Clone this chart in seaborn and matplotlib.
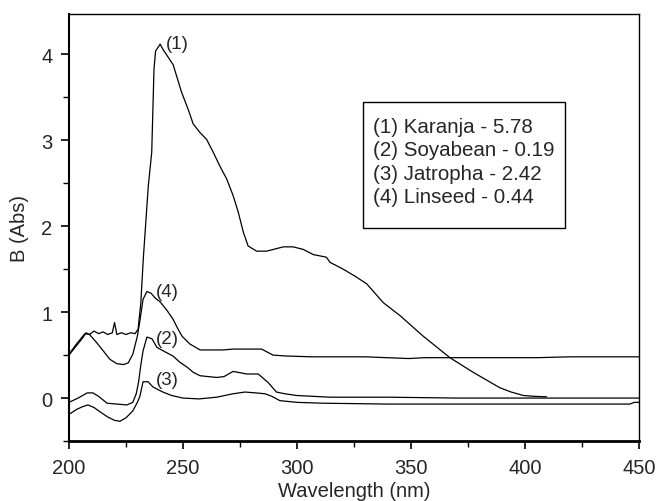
import pandas as pd
import seaborn as sns
import matplotlib.pyplot as plt
from matplotlib.patches import Rectangle

sns.set_style("ticks")
plt.rcParams['font.family'] = ['Liberation Sans', 'DejaVu Sans']

### Data

names = ["(1) Karanja - 5.78", "(2) Soyabean - 0.19", "(3) Jatropha - 2.42", "(4) Linseed - 0.44"]

wl_karanja = [200, 203, 206, 207.5, 209, 211, 213, 215, 217, 219, 220, 221, 223, 225, 227, 229,
              230.3, 231.5, 232.6, 234.8, 236.3, 237.3, 238, 240, 241.2, 245.7, 249.4, 252.3, 254.5,
              257.5, 260.4, 263.3, 266.2, 269.2, 272.1, 274.3, 276.5, 278.6, 282.3, 286.7, 294, 298.4,
              302.8, 307.2, 312.9, 314.5, 320.3, 325.4, 330.6, 337.9, 345.2, 355.4, 367.1, 377.3, 389,
              394, 399.3, 404, 409.5]
abs_karanja = [0.50, 0.60, 0.70, 0.76, 0.74, 0.78, 0.75, 0.77, 0.74, 0.76, 0.88, 0.74, 0.76, 0.74, 0.76, 0.75,
               0.80, 1.10, 1.62, 2.47, 2.86, 3.83, 4.04, 4.12, 4.06, 3.88, 3.56, 3.36, 3.19,
               3.09, 3.01, 2.86, 2.70, 2.55, 2.35, 2.16, 1.93, 1.77, 1.71, 1.71, 1.76, 1.76,
               1.73, 1.67, 1.64, 1.58, 1.50, 1.42, 1.33, 1.11, 0.96, 0.72, 0.47, 0.30, 0.12,
               0.07, 0.03, 0.02, 0.015]

wl_soya = [200, 204, 208, 210.5, 213, 216.7, 221, 225.4, 228, 229.5, 230.5, 231.5, 232.5, 234.2, 236.4,
           238.6, 242, 245.6, 248.5, 251.8, 254.5, 257.5, 261, 264.9, 268, 272, 278, 283, 287.4, 291,
           294.7, 299.8, 314.5, 340, 370, 400, 450]
abs_soya = [-0.05, 0.0, 0.06, 0.06, 0.02, -0.06, -0.07, -0.08, -0.05, 0.05, 0.18, 0.38, 0.55, 0.71, 0.69,
            0.59, 0.54, 0.49, 0.42, 0.36, 0.30, 0.26, 0.25, 0.24, 0.25, 0.31, 0.28, 0.28, 0.18, 0.07,
            0.05, 0.03, 0.01, 0.01, 0.0, 0.0, 0.0]

wl_jatropha = [200, 203.5, 206, 208.3, 211, 213.6, 217, 220, 222.4, 225, 228, 230, 231.1, 232.5, 234.7,
               236.8, 239, 241.2, 245, 250, 257, 264.8, 272, 277.2, 282, 286, 289, 292.5, 300, 311.5,
               340, 380, 420, 446, 448, 450]
abs_jatropha = [-0.19, -0.13, -0.10, -0.08, -0.11, -0.16, -0.22, -0.26, -0.27, -0.23, -0.15, -0.05, 0.02, 0.19, 0.19,
                0.13, 0.10, 0.07, 0.03, 0.0, -0.01, 0.01, 0.05, 0.07, 0.06, 0.05, 0.02, -0.03, -0.05, -0.06,
                -0.07, -0.07, -0.07, -0.07, -0.05, -0.05]

wl_linseed = [200, 203, 207, 209, 212, 215, 218, 221, 224, 226, 228, 230, 231, 232.5, 234.2, 236, 238,
              240, 243, 245.6, 247.5, 249.6, 253, 257.5, 267.5, 272, 278, 284.5, 289.5, 295, 306.4,
              330, 349, 356, 380, 405, 420, 450]
abs_linseed = [0.51, 0.62, 0.75, 0.74, 0.65, 0.55, 0.45, 0.40, 0.39, 0.41, 0.51, 0.72, 0.88, 1.15, 1.24, 1.22, 1.16,
               1.12, 1.02, 0.92, 0.82, 0.72, 0.63, 0.56, 0.56, 0.57, 0.57, 0.57, 0.50, 0.49, 0.48,
               0.48, 0.46, 0.47, 0.47, 0.47, 0.48, 0.48]

# curve tags (label, x, y)
tags = ["(1)", "(2)", "(3)", "(4)"]
tag_x = [242.5, 238.0, 238.0, 238.0]
tag_y = [4.13, 0.69, 0.22, 1.24]

frames = []
for n, w, a in zip(names, [wl_karanja, wl_soya, wl_jatropha, wl_linseed],
                   [abs_karanja, abs_soya, abs_jatropha, abs_linseed]):
    frames.append(pd.DataFrame({"wl": w, "abs": a, "oil": n}))
df = pd.concat(frames, ignore_index=True)

fig = plt.figure(figsize=(6.6, 5.02), dpi=100)
ax = fig.add_axes([0.1045, 0.1195, 0.8635, 0.8505])

sns.lineplot(data=df, x="wl", y="abs", hue="oil", units="oil", estimator=None, sort=False,
             palette=["black"] * 4, linewidth=0.9, ax=ax)

for t, x, y in zip(tags, tag_x, tag_y):
    ax.text(x, y, t, fontsize=13.5, ha="left", va="center")

ax.set_xlim(200, 450)
ax.set_ylim(-0.5, 4.47)
ax.set_xticks([200, 250, 300, 350, 400, 450])
ax.set_xticks([225, 275, 325, 375, 425], minor=True)
ax.set_yticks([0, 1, 2, 3, 4])
ax.set_yticks([-0.5, 0.5, 1.5, 2.5, 3.5], minor=True)
ax.tick_params(which="major", direction="out", length=6, width=1.2, labelsize=14.5, color="black")
ax.tick_params(which="minor", direction="out", length=4, width=1, color="black")
ax.tick_params(axis="x", pad=6)
ax.tick_params(axis="y", pad=6)

for side in ["top", "right"]:
    ax.spines[side].set_linewidth(1.0)
ax.spines["left"].set_linewidth(1.5)
ax.spines["bottom"].set_linewidth(2.0)
for s in ax.spines.values():
    s.set_color("black")

ax.set_xlabel("Wavelength (nm)", fontsize=14.5, labelpad=3)
ax.set_ylabel("B (Abs)", fontsize=14.5, labelpad=9)

# legend text without handles, frame drawn as a box
leg = ax.legend(loc="upper left", bbox_to_anchor=(0.533, 0.758), borderaxespad=0,
                fontsize=14.8, handlelength=0, handletextpad=0, frameon=False,
                borderpad=0, labelspacing=0.2)
for h in leg.legend_handles:
    h.set_visible(False)
ax.add_patch(Rectangle((0.516, 0.499), 0.354, 0.295, transform=ax.transAxes,
                       fill=False, edgecolor="black", linewidth=1.0, zorder=5))

plt.savefig("out.png", dpi=100)
